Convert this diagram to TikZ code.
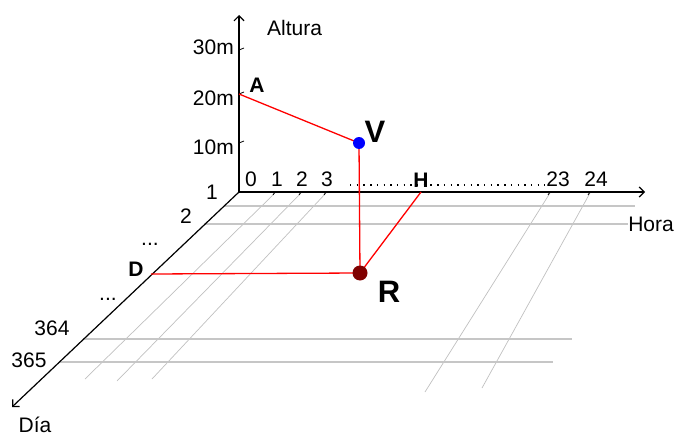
\documentclass[tikz,border=0pt]{standalone}
\usepackage{fontspec}
\setmainfont{Liberation Sans}
\usepackage{tikz}
\usetikzlibrary{arrows.meta}
\definecolor{darkred}{HTML}{800000}
\definecolor{gridgray}{HTML}{C0C0C0}

\begin{document}
\begin{tikzpicture}[x=1pt,y=-1pt,
    axis/.style={line width=1.2pt,-{Straight Barb[length=5pt,width=10pt]}},
    gridline/.style={gridgray,line width=0.7pt},
    rowline/.style={gridgray!90,line width=1.2pt},
    redline/.style={red,line width=1.3pt},
    lbl/.style={inner sep=0pt,font=\fontsize{21}{23}\selectfont},
    tag/.style={inner sep=0pt,font=\fontsize{21}{23}\selectfont\bfseries},
    bigtag/.style={inner sep=0pt,font=\fontsize{31}{33}\selectfont\bfseries},
    dot/.style={circle,inner sep=0pt}]
    \useasboundingbox (0,0) rectangle (675,436);
    \coordinate (O) at (239,192);
    \coordinate (ztip) at (239,15);
    \coordinate (htip) at (645,192);
    \coordinate (dtip) at (12,407);
    \node[lbl,anchor=east] (hora) at (674,224) {Hora};
    % grid on the floor
    \foreach \sx/\ex/\ey in {275/85/379,301/117/381,326/152/379,550/425/392,590/482/388}
      \draw[gridline] (\sx,193) -- (\ex,\ey);
    \foreach \sx/\y/\ex in {225/206/635,83/339/572,60/362/553}
      \draw[rowline] (\sx,\y) -- (\ex,\y);
    \draw[rowline] (204,224) -- (hora.west);
    % axes
    \draw[axis] (O) -- (ztip);
    \draw[axis] (O) -- (htip);
    \draw[axis] (O) -- (dtip);
    \foreach \y in {50,94,143} \draw[line width=0.8pt] (239,\y) -- (244,\y-2);
    \foreach \x in {275,301,326,550,590} \draw[line width=0.8pt] (\x,192) -- (\x-2,195);
    \foreach \y/\t in {47/30m,98/20m,147/10m} \node[lbl,anchor=east] (z\y) at (234,\y) {\t};
    \foreach \x/\t in {251/0,277/1,302/2,327/3,558/23,596/24} \node[lbl] (h\t) at (\x,179) {\t};
    \foreach \x/\y/\t in {212/192/1,186/216/2,52/328/364,29/360/365} \node[lbl] (d\t) at (\x,\y) {\t};
    \node[lbl] (dots1) at (150,244) {...};
    \node[lbl] (dots2) at (108,299) {...};
    \node[lbl,anchor=west] (altura) at (267,28) {Altura};
    \node[lbl] (dia) at (35,425) {Día};
    % the point and its projections
    \coordinate (A) at (239,94);
    \coordinate (H) at (421,192);
    \coordinate (D) at (151,274);
    \draw[dash pattern=on 1.4pt off 5.3pt,line width=1.2pt] (350,185) -- (545,185);
    \draw[redline] (A) -- (359,143) -- (360,273) -- (H);
    \draw[redline] (D) -- (360,273);
    \node[dot,fill=blue,minimum size=12pt] (V) at (359,143) {};
    \node[dot,fill=darkred,minimum size=15pt] (R) at (360,273) {};
    \node[tag] (la) at (257,85) {A};
    \node[tag] (lh) at (421,180) {H};
    \node[tag] (ld) at (136,269) {D};
    \node[bigtag] (lv) at (375,132) {V};
    \node[bigtag] (lr) at (389,292) {R};
  \end{tikzpicture}
\end{document}
